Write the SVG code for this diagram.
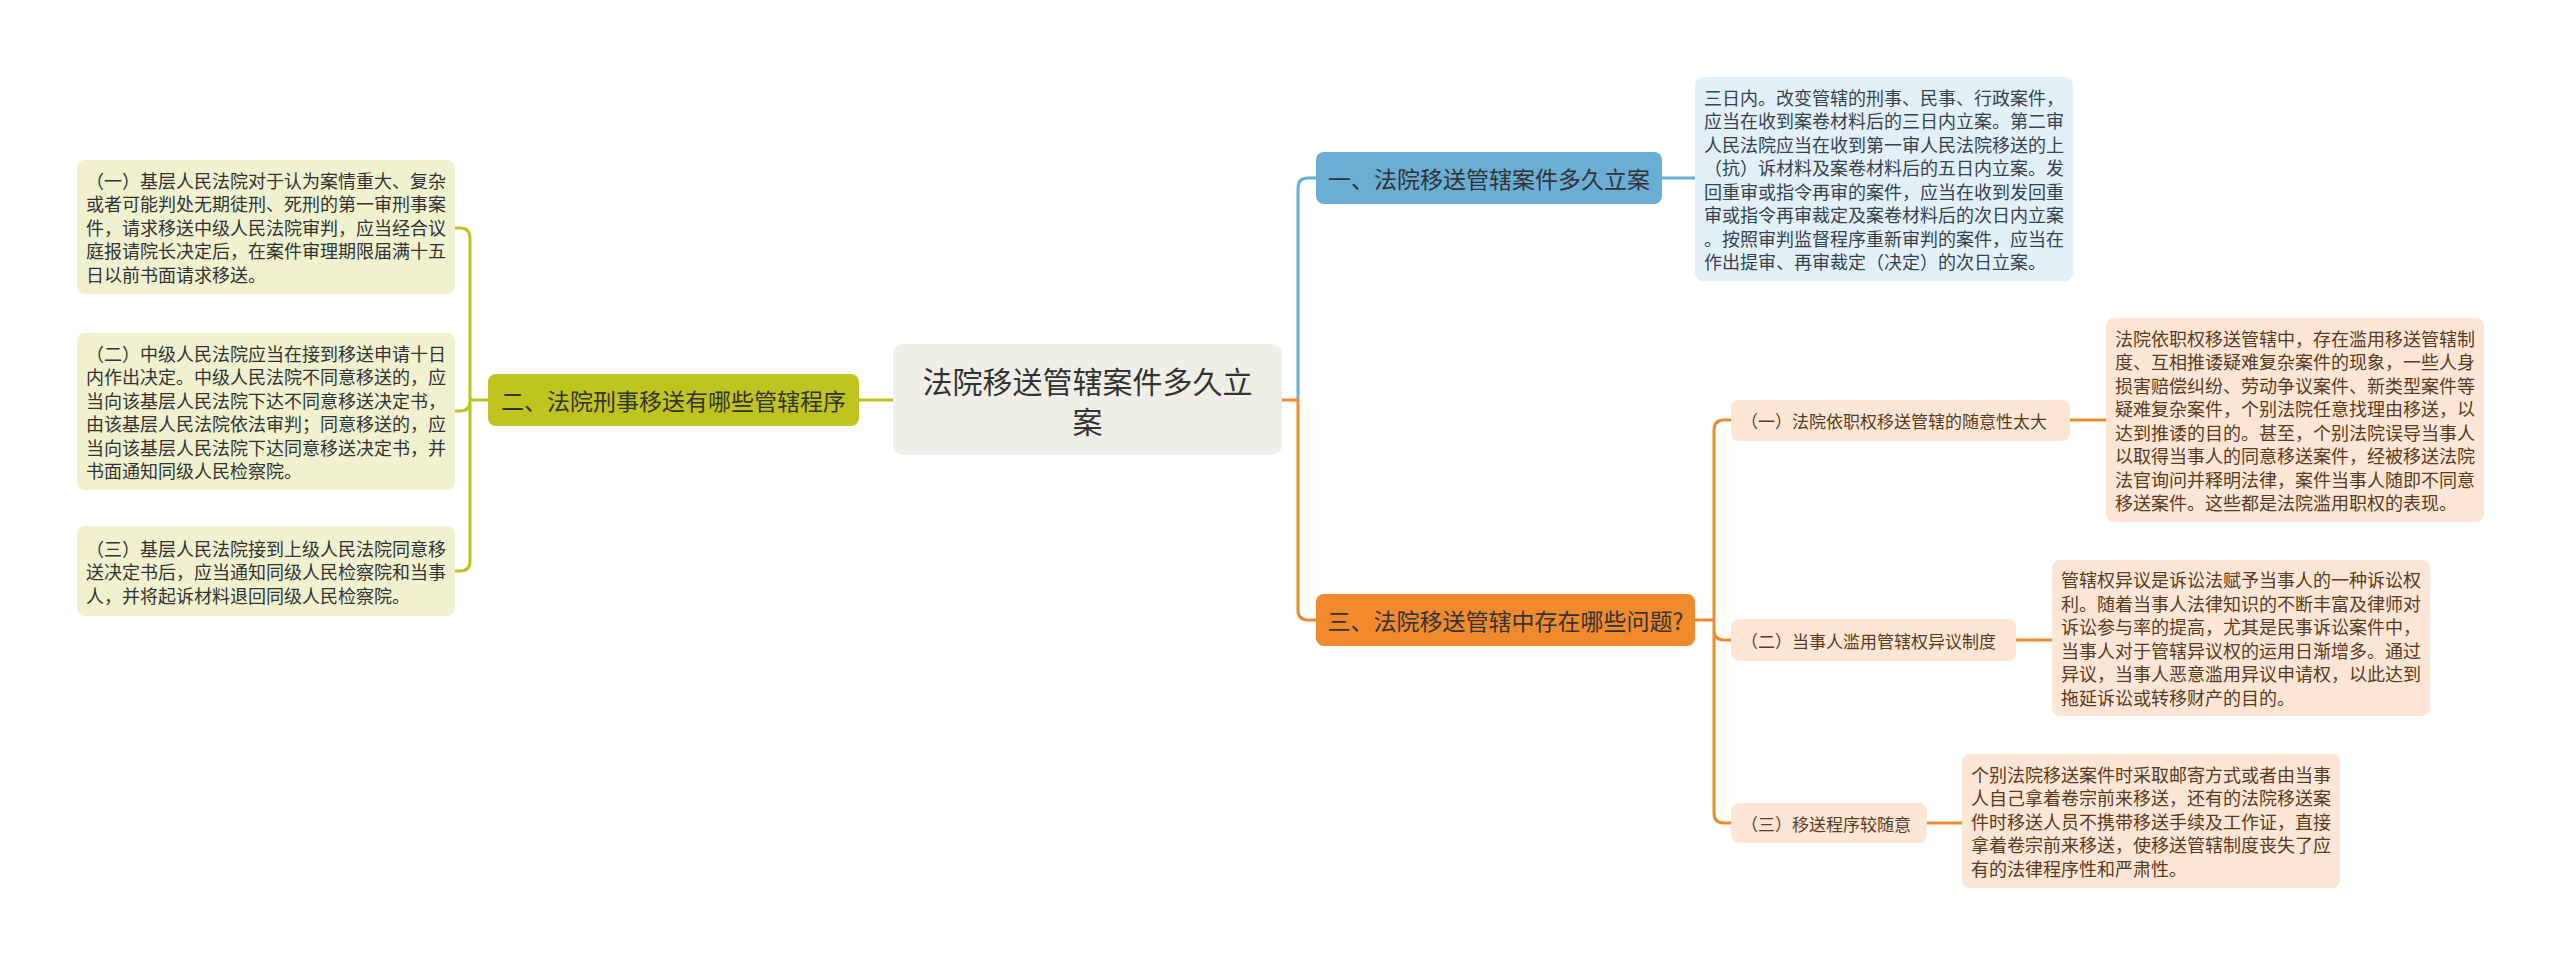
<svg xmlns="http://www.w3.org/2000/svg" width="2560" height="966" viewBox="0 0 2560 966">
<style>
text{font-family:"Noto Sans CJK SC","Noto Sans",sans-serif;dominant-baseline:central}
.c{fill:none;stroke-width:3;stroke-linecap:round;stroke-linejoin:round}
.blue{stroke:#6aaed6}.olive{stroke:#bcc21e}.orange{stroke:#ef8a2e}
.t18{font-size:18px}
.t17{font-size:17px}
.t23{font-size:23px;fill:#333}
</style>
<rect width="2560" height="966" fill="#ffffff"/>
<g id="connectors">
<path class="c olive" d="M893,400 H859"/>
<path class="c olive" d="M488,400 H470 M470,400 V238 Q470,228 460,228 H455 M470,400 V401 Q470,411 460,411 H455 M470,400 V561 Q470,571 460,571 H455"/>
<path class="c blue" d="M1298,400 V188 Q1298,178 1308,178 H1316"/>
<path class="c blue" d="M1662,178 H1695"/>
<path class="c orange" d="M1282,400 H1298 V610 Q1298,620 1308,620 H1316"/>
<path class="c orange" d="M1695,620 H1714 M1714,620 V430 Q1714,420 1724,420 H1731 M1714,620 V630 Q1714,640 1724,640 H1731 M1714,620 V813 Q1714,823 1724,823 H1731"/>
<path class="c orange" d="M2070,420 H2106 M2016,640 H2052 M1927,823 H1962"/>
</g>
<g id="center">
<rect x="893" y="344" width="389" height="111" rx="10" fill="#efefe7"/>
<text x="1087.5" y="380" text-anchor="middle" font-size="30" fill="#333">法院移送管辖案件多久立</text>
<text x="1087.5" y="420" text-anchor="middle" font-size="30" fill="#333">案</text>
</g>
<g id="branch1">
<rect x="1316" y="152" width="346" height="52" rx="8" fill="#6aaed6"/>
<text x="1489" y="178" text-anchor="middle" class="t23">一、法院移送管辖案件多久立案</text>
</g>
<g id="detail1">
<rect x="1695" y="77" width="378" height="204" rx="8" fill="#e3f0f8"/>
<text class="t18" fill="#34434f">
<tspan x="1704" y="96.75">三日内。改变管辖的刑事、民事、行政案件，</tspan>
<tspan x="1704" y="120.25">应当在收到案卷材料后的三日内立案。第二审</tspan>
<tspan x="1704" y="143.75">人民法院应当在收到第一审人民法院移送的上</tspan>
<tspan x="1704" y="167.25">（抗）诉材料及案卷材料后的五日内立案。发</tspan>
<tspan x="1704" y="190.75">回重审或指令再审的案件，应当在收到发回重</tspan>
<tspan x="1704" y="214.25">审或指令再审裁定及案卷材料后的次日内立案</tspan>
<tspan x="1704" y="237.75">。按照审判监督程序重新审判的案件，应当在</tspan>
<tspan x="1704" y="261.25">作出提审、再审裁定（决定）的次日立案。</tspan>
</text>
</g>
<g id="branch2">
<rect x="488" y="374" width="371" height="52" rx="8" fill="#bfc41f"/>
<text x="673.5" y="400" text-anchor="middle" class="t23">二、法院刑事移送有哪些管辖程序</text>
</g>
<g id="leaf1">
<rect x="77" y="160" width="378" height="134" rx="8" fill="#eff1cf"/>
<text class="t18" fill="#333">
<tspan x="86" y="179.75">（一）基层人民法院对于认为案情重大、复杂</tspan>
<tspan x="86" y="203.25">或者可能判处无期徒刑、死刑的第一审刑事案</tspan>
<tspan x="86" y="226.75">件，请求移送中级人民法院审判，应当经合议</tspan>
<tspan x="86" y="250.25">庭报请院长决定后，在案件审理期限届满十五</tspan>
<tspan x="86" y="273.75">日以前书面请求移送。</tspan>
</text>
</g>
<g id="leaf2">
<rect x="77" y="333" width="378" height="157" rx="8" fill="#eff1cf"/>
<text class="t18" fill="#333">
<tspan x="86" y="352.75">（二）中级人民法院应当在接到移送申请十日</tspan>
<tspan x="86" y="376.25">内作出决定。中级人民法院不同意移送的，应</tspan>
<tspan x="86" y="399.75">当向该基层人民法院下达不同意移送决定书，</tspan>
<tspan x="86" y="423.25">由该基层人民法院依法审判；同意移送的，应</tspan>
<tspan x="86" y="446.75">当向该基层人民法院下达同意移送决定书，并</tspan>
<tspan x="86" y="470.25">书面通知同级人民检察院。</tspan>
</text>
</g>
<g id="leaf3">
<rect x="77" y="526" width="378" height="90" rx="8" fill="#eff1cf"/>
<text class="t18" fill="#333">
<tspan x="86" y="547.5">（三）基层人民法院接到上级人民法院同意移</tspan>
<tspan x="86" y="571">送决定书后，应当通知同级人民检察院和当事</tspan>
<tspan x="86" y="594.5">人，并将起诉材料退回同级人民检察院。</tspan>
</text>
</g>
<g id="branch3">
<rect x="1316" y="594" width="379" height="52" rx="8" fill="#f08a2c"/>
<text x="1505.5" y="620" text-anchor="middle" class="t23">三、法院移送管辖中存在哪些问题?</text>
</g>
<g id="sub1">
<rect x="1731" y="400" width="339" height="41" rx="8" fill="#fde6d5"/>
<text x="1741" y="420.5" class="t17" fill="#5a3b22">（一）法院依职权移送管辖的随意性太大</text>
</g>
<g id="sub2">
<rect x="1731" y="619" width="285" height="42" rx="8" fill="#fde6d5"/>
<text x="1741" y="640" class="t17" fill="#5a3b22">（二）当事人滥用管辖权异议制度</text>
</g>
<g id="sub3">
<rect x="1731" y="803" width="196" height="40" rx="8" fill="#fde6d5"/>
<text x="1741" y="823" class="t17" fill="#5a3b22">（三）移送程序较随意</text>
</g>
<g id="detail2">
<rect x="2106" y="318" width="378" height="204" rx="8" fill="#fde6d5"/>
<text class="t18" fill="#5a3b22">
<tspan x="2115" y="337.75">法院依职权移送管辖中，存在滥用移送管辖制</tspan>
<tspan x="2115" y="361.25">度、互相推诿疑难复杂案件的现象，一些人身</tspan>
<tspan x="2115" y="384.75">损害赔偿纠纷、劳动争议案件、新类型案件等</tspan>
<tspan x="2115" y="408.25">疑难复杂案件，个别法院任意找理由移送，以</tspan>
<tspan x="2115" y="431.75">达到推诿的目的。甚至，个别法院误导当事人</tspan>
<tspan x="2115" y="455.25">以取得当事人的同意移送案件，经被移送法院</tspan>
<tspan x="2115" y="478.75">法官询问并释明法律，案件当事人随即不同意</tspan>
<tspan x="2115" y="502.25">移送案件。这些都是法院滥用职权的表现。</tspan>
</text>
</g>
<g id="detail3">
<rect x="2052" y="560" width="378" height="156" rx="8" fill="#fde6d5"/>
<text class="t18" fill="#5a3b22">
<tspan x="2061" y="579.25">管辖权异议是诉讼法赋予当事人的一种诉讼权</tspan>
<tspan x="2061" y="602.75">利。随着当事人法律知识的不断丰富及律师对</tspan>
<tspan x="2061" y="626.25">诉讼参与率的提高，尤其是民事诉讼案件中，</tspan>
<tspan x="2061" y="649.75">当事人对于管辖异议权的运用日渐增多。通过</tspan>
<tspan x="2061" y="673.25">异议，当事人恶意滥用异议申请权，以此达到</tspan>
<tspan x="2061" y="696.75">拖延诉讼或转移财产的目的。</tspan>
</text>
</g>
<g id="detail4">
<rect x="1962" y="754" width="378" height="134" rx="8" fill="#fde6d5"/>
<text class="t18" fill="#5a3b22">
<tspan x="1971" y="773.75">个别法院移送案件时采取邮寄方式或者由当事</tspan>
<tspan x="1971" y="797.25">人自己拿着卷宗前来移送，还有的法院移送案</tspan>
<tspan x="1971" y="820.75">件时移送人员不携带移送手续及工作证，直接</tspan>
<tspan x="1971" y="844.25">拿着卷宗前来移送，使移送管辖制度丧失了应</tspan>
<tspan x="1971" y="867.75">有的法律程序性和严肃性。</tspan>
</text>
</g>
</svg>
